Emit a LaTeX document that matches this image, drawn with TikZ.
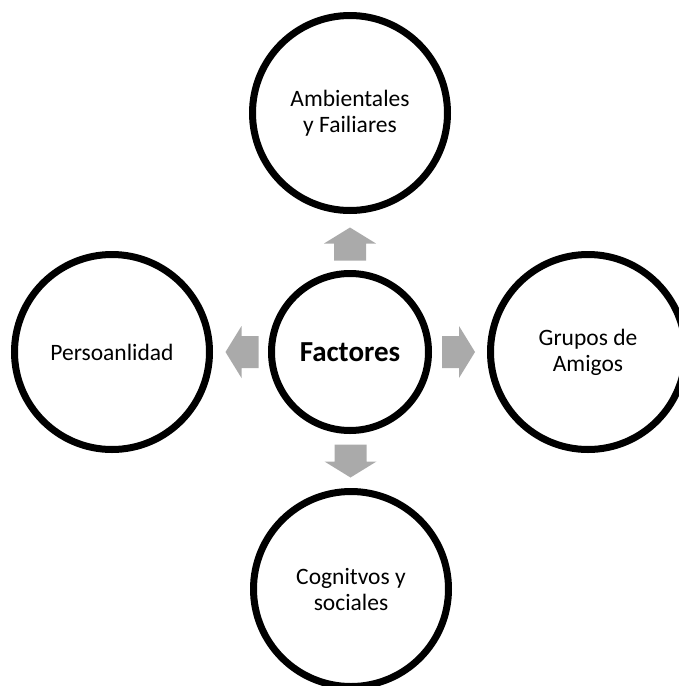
\documentclass[tikz,border=0pt]{standalone}
\usepackage{fontspec}
\setmainfont{Carlito}
\usetikzlibrary{shadows,calc}
\definecolor{arrowgray}{RGB}{170,170,170}
\tikzset{
  bubble/.style={circle, draw=black, line width=7pt, fill=white, minimum size=195pt, inner sep=0pt,
    align=center, font=\fontsize{23.5}{26}\selectfont,
    drop shadow={shadow xshift=1.5pt, shadow yshift=-2.5pt, opacity=0.18, fill=black}},
  hub/.style={bubble, minimum size=157pt, font=\fontsize{29}{32}\selectfont\bfseries},
  blockarrow/.pic={
    \fill[arrowgray] (-16.5,-16) -- (0.5,-16) -- (0.5,-26) -- (16.5,0) -- (0.5,26) -- (0.5,16) -- (-16.5,16) -- cycle;
  }
}
\begin{document}
\begin{tikzpicture}[x=1pt,y=-1pt]
\useasboundingbox (0,0) rectangle (678,686);
\node[hub] (c) at (350,352) {Factores};
\node[bubble] (t) at (350,113) {Ambientales\\y Failiares};
\node[bubble] (l) at (112,352) {Persoanlidad};
\node[bubble] (r) at (588,352) {Grupos de\\Amigos};
\node[bubble] (b) at (351,589) {Cognitvos y\\sociales};
\pic[rotate=90] at ($(c.north)!0.5!(t.south)+(0,2)$) {blockarrow};
\pic at ($(c.east)!0.5!(r.west)+(-1,0)$) {blockarrow};
\pic[rotate=180] at ($(c.west)!0.5!(l.east)+(1.5,0)$) {blockarrow};
\pic[rotate=-90] at ($(c.south)!0.5!(b.north)$) {blockarrow};
\end{tikzpicture}
\end{document}
